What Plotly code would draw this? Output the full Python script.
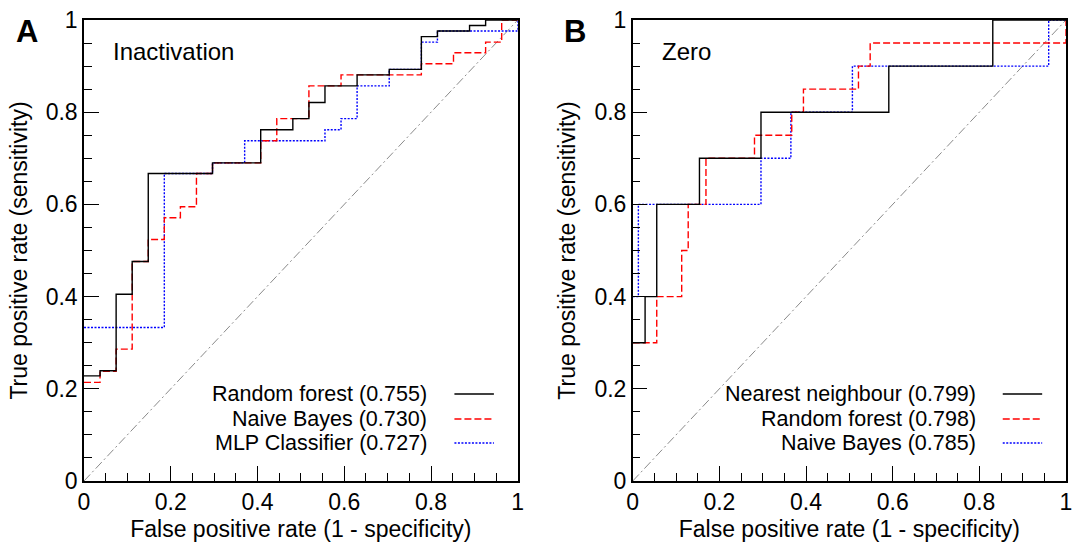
import plotly.graph_objects as go

# ---------------- Data ----------------
# Panel A: Inactivation
a_rf_fpr = [0, 1/27, 2/27, 3/27, 4/27, 8/27, 11/27, 13/27, 14/27, 15/27, 17/27, 19/27, 21/27, 22/27, 24/27, 25/27, 1]
a_rf_tpr = [0.228, 0.239, 0.405, 0.476, 0.667, 0.690, 0.762, 0.786, 0.821, 0.857, 0.881, 0.893, 0.964, 0.976, 0.988, 1.0, 1.0]

a_nb_fpr = [0, 1/27, 2/27, 3/27, 4/27, 5/27, 6/27, 7/27, 8/27, 11/27, 12/27, 14/27, 16/27, 21/27, 23/27, 25/27, 26/27, 1]
a_nb_tpr = [0.214, 0.238, 0.286, 0.476, 0.524, 0.571, 0.595, 0.667, 0.690, 0.738, 0.786, 0.857, 0.881, 0.905, 0.929, 0.952, 1.0, 1.0]

a_mlp_fpr = [0, 5/27, 8/27, 10/27, 15/27, 16/27, 17/27, 19/27, 21/27, 22/27, 1, 1]
a_mlp_tpr = [0.333, 0.667, 0.690, 0.738, 0.762, 0.786, 0.857, 0.893, 0.952, 0.976, 0.976, 1.0]

# Panel B: Zero
b_nn_fpr = [0, 0.0285, 0.0554, 0.154, 0.296, 0.591, 0.831, 1]
b_nn_tpr = [0.3, 0.4, 0.6, 0.7, 0.8, 0.9, 1.0, 1.0]

b_rf_fpr = [0, 0.0554, 0.113, 0.128, 0.169, 0.281, 0.367, 0.394, 0.521, 0.548, 1, 1]
b_rf_tpr = [0.3, 0.4, 0.5, 0.6, 0.7, 0.75, 0.8, 0.85, 0.9, 0.95, 0.95, 1.0]

b_nb_fpr = [0, 0.013, 0.296, 0.365, 0.507, 0.96, 1]
b_nb_tpr = [0.4, 0.6, 0.7, 0.8, 0.9, 1.0, 1.0]

a_labels = ["Random forest (0.755)", "Naive Bayes (0.730)", "MLP Classifier (0.727)"]
b_labels = ["Nearest neighbour (0.799)", "Random forest (0.798)", "Naive Bayes (0.785)"]

tick_vals = [0, 0.2, 0.4, 0.6, 0.8, 1]
tick_text = ["0", "0.2", "0.4", "0.6", "0.8", "1"]

FONT = "Liberation Sans, Arial, sans-serif"
styles = [
    dict(color="#000000", width=1.4, dash="solid"),
    dict(color="#ff0000", width=1.4, dash="7px,3px"),
    dict(color="#0000ff", width=1.4, dash="2px,1.5px"),
]

fig = go.Figure()

panels = [
    ("x", "y", [(a_rf_fpr, a_rf_tpr), (a_nb_fpr, a_nb_tpr), (a_mlp_fpr, a_mlp_tpr)], a_labels, "Inactivation"),
    ("x2", "y2", [(b_nn_fpr, b_nn_tpr), (b_rf_fpr, b_rf_tpr), (b_nb_fpr, b_nb_tpr)], b_labels, "Zero"),
]

for xa, ya, curves, labels, title in panels:
    fig.add_trace(go.Scatter(x=[0, 1], y=[0, 1], mode="lines", xaxis=xa, yaxis=ya,
                             line=dict(color="#8a8a8a", width=1, dash="9px,3px,2px,3px"),
                             showlegend=False, hoverinfo="skip"))
    for (fx, ty), st in reversed(list(zip(curves, styles))):
        fig.add_trace(go.Scatter(x=fx, y=ty, mode="lines", line_shape="hv", xaxis=xa, yaxis=ya,
                                 line=st, showlegend=False))

axis_common = dict(range=[0, 1], showgrid=False, zeroline=False, showline=True, linecolor="black",
                   linewidth=1.5, mirror=True, ticks="inside", ticklen=15, tickwidth=1.2, tickcolor="black",
                   tickvals=tick_vals, ticktext=tick_text, tickfont=dict(family=FONT, size=23, color="black"),
                   minor=dict(ticks="inside", ticklen=8, tickwidth=1.2, tickcolor="black", dtick=0.05, tick0=0),
                   fixedrange=True, automargin=False)

xtitle = dict(text="False positive rate (1 - specificity)", font=dict(family=FONT, size=23, color="black"), standoff=11)
ytitle = dict(text="True positive rate (sensitivity)", font=dict(family=FONT, size=23, color="black"), standoff=12)

fig.update_layout(
    width=1077, height=542,
    margin=dict(l=84, r=11, t=20, b=61),
    paper_bgcolor="white", plot_bgcolor="white",
    xaxis=dict(domain=[0, 0.4417], anchor="y", title=xtitle, **axis_common),
    yaxis=dict(domain=[0, 1], anchor="x", title=ytitle, **axis_common),
    xaxis2=dict(domain=[0.5588, 1], anchor="y2", title=xtitle, **axis_common),
    yaxis2=dict(domain=[0, 1], anchor="x2", title=ytitle, **axis_common),
    showlegend=False,
)

annotations = []
shapes = []
row_y = [0.1887, 0.1345, 0.0824]
for (xa, ya, curves, labels, title), ref in zip(panels, [("x", "y"), ("x2", "y2")]):
    xr = ref[0] + " domain"
    yr = ref[1] + " domain"
    annotations.append(dict(text=title, x=0.062, y=0.9306, xref=xr, yref=yr, xanchor="left", yanchor="middle",
                            showarrow=False, font=dict(family=FONT, size=24, color="black")))
    for lab, yy, st in zip(labels, row_y, styles):
        annotations.append(dict(text=lab, x=0.796, y=yy, xref=xr, yref=yr, xanchor="right", yanchor="middle",
                                showarrow=False, font=dict(family=FONT, size=21.5, color="black")))
        shapes.append(dict(type="line", x0=0.854, x1=0.945, y0=yy, y1=yy, xref=xr, yref=yr,
                           line=dict(color=st["color"], width=1.5, dash=st["dash"])))

annotations.append(dict(text="<b>A</b>", x=-0.0583, y=0.974, xref="paper", yref="paper", xanchor="center",
                        yanchor="middle", showarrow=False, font=dict(family=FONT, size=31, color="black")))
annotations.append(dict(text="<b>B</b>", x=0.5, y=0.974, xref="paper", yref="paper", xanchor="center",
                        yanchor="middle", showarrow=False, font=dict(family=FONT, size=31, color="black")))

fig.update_layout(annotations=annotations, shapes=shapes)

fig.write_html("out.html", config={"displayModeBar": False},
               post_script="document.body.style.margin='0px';document.body.style.padding='0px';")
